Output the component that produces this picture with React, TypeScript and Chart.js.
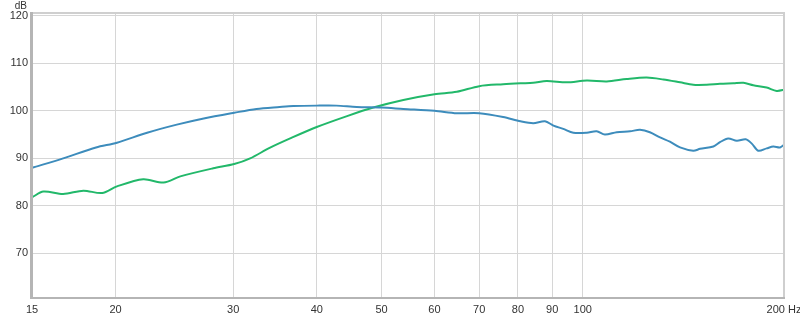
import React, { useEffect, useRef } from "react";
import { Chart, registerables } from "chart.js";

Chart.register(...registerables);

const blueFreq = [15, 16.7, 18.7, 20.1, 22.3, 24.7, 27.1, 30.1, 32.5, 35.2, 36.9, 40, 42.8, 45.9, 50, 53.9, 60, 64.8, 70, 76, 80.7, 84.3, 87.8, 90.4, 93.5, 96.8, 101.4, 104.9, 107.9, 112.4, 117.7, 121.8, 126, 130.5, 135, 139.8, 146.3, 149.8, 156.8, 160.4, 165, 170, 175.3, 179, 183, 188.4, 192.8, 197.3, 201];
const blueDb = [88.0, 90.0, 92.3, 93.3, 95.4, 97.1, 98.4, 99.6, 100.4, 100.8, 101.0, 101.1, 101.1, 100.8, 100.7, 100.4, 100.0, 99.5, 99.5, 98.7, 97.8, 97.4, 97.8, 96.9, 96.2, 95.4, 95.4, 95.7, 95.0, 95.5, 95.7, 96.0, 95.5, 94.4, 93.5, 92.3, 91.6, 92.0, 92.5, 93.4, 94.2, 93.7, 94.0, 93.1, 91.6, 92.1, 92.5, 92.3, 93.1];

const greenFreq = [15, 15.6, 16.7, 17.9, 19.1, 20.1, 22.0, 23.6, 25.0, 28.0, 30.1, 31.8, 34.0, 36.5, 40, 44.4, 48.6, 53.9, 60, 64.8, 70, 76, 80.7, 84.3, 88.3, 94.6, 101.4, 108.6, 116.3, 124.6, 132, 139.8, 146.3, 153.2, 160.4, 168, 173.9, 179.9, 188.4, 195, 201];
const greenDb = [81.8, 83.0, 82.5, 83.2, 82.7, 84.1, 85.6, 84.9, 86.2, 87.9, 88.8, 90.0, 92.2, 94.2, 96.6, 98.9, 100.7, 102.3, 103.5, 104.0, 105.2, 105.6, 105.8, 105.9, 106.3, 106.0, 106.4, 106.2, 106.7, 107.0, 106.6, 106.0, 105.5, 105.5, 105.7, 105.8, 105.9, 105.4, 104.9, 104.2, 104.5];

const xTickValues = [15, 20, 30, 40, 50, 60, 70, 80, 90, 100, 200];
const xTickLabels = ["15", "20", "30", "40", "50", "60", "70", "80", "90", "100", "200 Hz"];
const yTickValues = [70, 80, 90, 100, 110, 120];
const yUnit = "dB";

const FONT = "'Liberation Sans', Arial, sans-serif";

export default function App() {
  const ref = useRef<HTMLCanvasElement | null>(null);

  useEffect(() => {
    if (!ref.current) return;
    const framePlugin = {
      id: "frame",
      afterDraw(chart: any) {
        const { ctx, chartArea } = chart;
        const { left, right, top, bottom } = chartArea;
        ctx.save();
        ctx.strokeStyle = "#cfcfcf";
        ctx.lineWidth = 2;
        ctx.strokeRect(left, top, right - left, bottom - top);
        ctx.strokeStyle = "#b5b5b5";
        ctx.lineWidth = 3;
        ctx.beginPath();
        ctx.moveTo(left - 0.5, top - 1);
        ctx.lineTo(left - 0.5, bottom + 1);
        ctx.stroke();
        ctx.lineWidth = 2;
        ctx.beginPath();
        ctx.moveTo(left - 2, bottom);
        ctx.lineTo(right + 1, bottom);
        ctx.stroke();
        ctx.fillStyle = "#333";
        ctx.font = "10px " + FONT;
        ctx.textAlign = "right";
        ctx.textBaseline = "alphabetic";
        ctx.fillText(yUnit, 27, 9);
        ctx.restore();
      },
    };

    const chart = new Chart(ref.current, {
      type: "line",
      data: {
        datasets: [
          {
            label: "blue",
            data: blueFreq.map((f, i) => ({ x: f, y: blueDb[i] })),
            borderColor: "#3d8cbc",
            borderWidth: 2,
            pointRadius: 0,
            tension: 0.3,
            fill: false,
          },
          {
            label: "green",
            data: greenFreq.map((f, i) => ({ x: f, y: greenDb[i] })),
            borderColor: "#22b86a",
            borderWidth: 2,
            pointRadius: 0,
            tension: 0.3,
            fill: false,
          },
        ],
      },
      options: {
        animation: false,
        responsive: false,
        devicePixelRatio: 1,
        layout: { padding: { left: 0, right: 16, top: 13, bottom: 0 } },
        plugins: { legend: { display: false }, tooltip: { enabled: false } },
        scales: {
          x: {
            type: "logarithmic",
            min: 15,
            max: 200,
            border: { display: false },
            grid: { color: "#d6d6d6", lineWidth: 1, drawTicks: false },
            afterBuildTicks: (scale: any) => {
              scale.ticks = xTickValues.map((v) => ({ value: v }));
            },
            afterFit: (scale: any) => {
              scale.height = 18;
              scale.paddingLeft = 0;
              scale.paddingRight = 0;
            },
            ticks: {
              autoSkip: false,
              maxRotation: 0,
              padding: 5,
              color: "#333",
              font: { size: 11, family: FONT },
              callback: (v: any) => {
                const i = xTickValues.indexOf(Number(v));
                return i >= 0 ? xTickLabels[i] : "";
              },
            },
          },
          y: {
            type: "linear",
            min: 60.6,
            max: 120.6,
            border: { display: false },
            grid: { color: "#d6d6d6", lineWidth: 1, drawTicks: false },
            afterBuildTicks: (scale: any) => {
              scale.ticks = yTickValues.map((v) => ({ value: v }));
            },
            afterFit: (scale: any) => {
              scale.width = 32;
              scale.paddingTop = 0;
              scale.paddingBottom = 0;
            },
            ticks: {
              padding: 4,
              color: "#333",
              font: { size: 11, family: FONT },
              callback: (v: any) => String(v),
            },
          },
        },
      },
      plugins: [framePlugin],
    });
    return () => chart.destroy();
  }, []);

  return (
    <div style={{ position: "fixed", left: 0, top: 0, width: 800, height: 316, background: "#fff" }}>
      <canvas ref={ref} width={800} height={316} />
    </div>
  );
}
